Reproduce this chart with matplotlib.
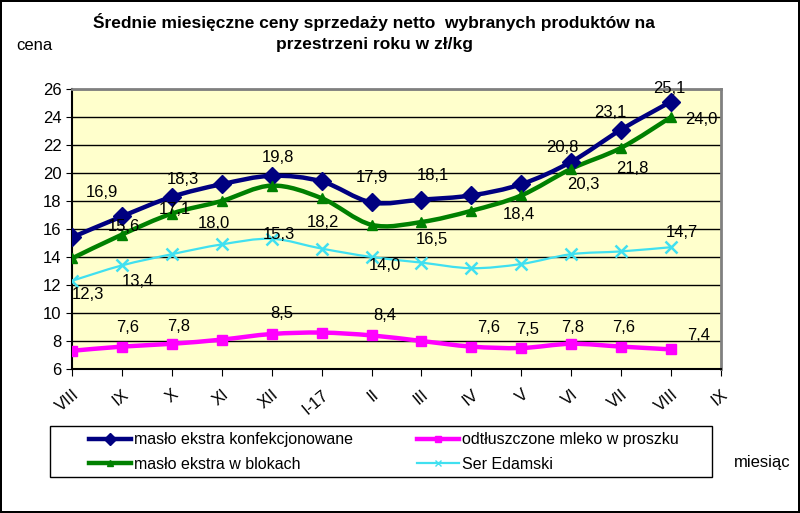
import numpy as np
import matplotlib.pyplot as plt
from matplotlib.path import Path
from matplotlib.patches import PathPatch, Rectangle
from matplotlib.lines import Line2D

plt.rcParams['font.family'] = ['Liberation Sans', 'DejaVu Sans']

months = ['VIII', 'IX', 'X', 'XI', 'XII', 'I-17', 'II', 'III', 'IV', 'V', 'VI', 'VII', 'VIII', 'IX']
maslo_konf = [15.4, 16.9, 18.3, 19.2, 19.8, 19.4, 17.9, 18.1, 18.4, 19.2, 20.8, 23.1, 25.1]
maslo_blok = [13.9, 15.6, 17.1, 18.0, 19.1, 18.2, 16.3, 16.5, 17.3, 18.4, 20.3, 21.8, 24.0]
mleko = [7.3, 7.6, 7.8, 8.1, 8.5, 8.6, 8.4, 8.0, 7.6, 7.5, 7.8, 7.6, 7.4]
ser = [12.3, 13.4, 14.2, 14.9, 15.3, 14.6, 14.0, 13.6, 13.2, 13.5, 14.2, 14.4, 14.7]

# labels shown on the chart: (index, dx px, dy px)
lab_konf = [(1, -20, 24), (2, 11, 17), (4, 6, 18), (6, 0, 25), (7, 11, 24),
            (10, -9, 14), (11, -11, 17), (12, -2, 13)]
lab_blok = [(1, 2, 8), (2, 3, 4), (3, -8, -22), (5, 1, -24), (7, 10, -17),
            (9, -2, -19), (10, 12, -16), (11, 11, -21), (12, 30, -2)]
lab_mleko = [(1, 6, 19), (2, 7, 17), (4, 10, 21), (6, 13, 20), (8, 17, 19),
             (9, 6, 18), (10, 1, 16), (11, 2, 19), (12, 28, 14)]
lab_ser = [(0, 16, -14), (1, 16, -16), (4, 7, 4), (6, 13, -8), (12, 11, 15)]

fig = plt.figure(figsize=(8, 5.13), dpi=100)
fig.patch.set_edgecolor('black')
fig.patch.set_linewidth(1.5)
ax = fig.add_axes([72 / 800, 1 - 369 / 513, 649 / 800, 280 / 513])
ax.set_facecolor('#FFFFCC')


def smooth(ax, xs, ys, color, lw):
    # Catmull-Rom -> cubic bezier, like Excel smoothed lines
    p = np.column_stack([xs, ys]).astype(float)
    n = len(p)
    verts = [p[0]]
    codes = [Path.MOVETO]
    for i in range(n - 1):
        p0 = p[i - 1] if i > 0 else p[i]
        p3 = p[i + 2] if i + 2 < n else p[i + 1]
        c1 = p[i] + (p[i + 1] - p0) / 6
        c2 = p[i + 1] - (p3 - p[i]) / 6
        verts += [c1, c2, p[i + 1]]
        codes += [Path.CURVE4] * 3
    ax.add_patch(PathPatch(Path(verts, codes), fill=False, edgecolor=color,
                           lw=lw, capstyle='round', joinstyle='round', zorder=3))


series = {
    'konf': (maslo_konf, '#000080', 3.2, 'D', 9, 'masło ekstra konfekcjonowane', lab_konf),
    'mleko': (mleko, '#FF00FF', 3.2, 's', 7, 'odtłuszczone mleko w proszku', lab_mleko),
    'blok': (maslo_blok, '#008000', 3.2, '^', 7, 'masło ekstra w blokach', lab_blok),
    'ser': (ser, '#40E0F0', 1.6, 'x', 8, 'Ser Edamski', lab_ser),
}

handles = {}
for key, (vals, col, lw, mk, ms, name, labs) in series.items():
    xs = np.arange(len(vals))
    smooth(ax, xs, vals, col, lw)
    ax.plot(xs, vals, ls='none', marker=mk, ms=ms, color=col,
            mew=1.8 if mk == 'x' else 1, zorder=4)
    handles[key] = Line2D([], [], color=col, lw=lw, marker=mk, ms=ms - 3, label=name)
    for i, dx, dy in labs:
        ax.annotate(f'{vals[i]:.1f}'.replace('.', ','), (xs[i], vals[i]),
                    xytext=(dx, dy), textcoords='offset pixels',
                    ha='center', va='center', fontsize=12, zorder=5)

ax.set_xlim(0, len(months) - 1)
ax.set_ylim(6, 26)
ax.set_yticks(np.arange(6, 27, 2))
ax.set_xticks(np.arange(len(months)))
ax.set_xticklabels(months, rotation=40, ha='right', rotation_mode='anchor', fontsize=12)
ax.tick_params(axis='y', labelsize=12, length=4, direction='out')
ax.tick_params(axis='x', length=5, direction='out', pad=8)
ax.yaxis.grid(True, color='black', lw=1)
ax.set_axisbelow(True)
for s in ['top', 'right']:
    ax.spines[s].set_color('#808080')
    ax.spines[s].set_linewidth(2)
for s in ['left', 'bottom']:
    ax.spines[s].set_color('black')
    ax.spines[s].set_linewidth(1.5)

fig.text(374 / 800, 1 - 22 / 513,
         'Średnie miesięczne ceny sprzedaży netto  wybranych produktów na',
         ha='center', va='center', fontsize=12.5, fontweight='bold')
fig.text(374 / 800, 1 - 45 / 513, 'przestrzeni roku w zł/kg',
         ha='center', va='center', fontsize=12.5, fontweight='bold')
fig.text(34 / 800, 1 - 45 / 513, 'cena', ha='center', va='center', fontsize=12)
fig.text(762 / 800, 1 - 463 / 513, 'miesiąc', ha='center', va='center', fontsize=12)

# legend frame drawn separately, entries placed inside it
fig.patches.append(Rectangle((50 / 800, 1 - 477 / 513), 662 / 800, 51 / 513,
                             transform=fig.transFigure, fill=False,
                             edgecolor='black', lw=1))
leg = fig.legend(handles=[handles['konf'], handles['blok'], handles['mleko'], handles['ser']],
                 ncol=2, loc='upper left', bbox_to_anchor=(75 / 800, 1 - 418 / 513),
                 fontsize=11.5, frameon=False, handlelength=2.6, handletextpad=0.2,
                 columnspacing=4.0, borderpad=0.4, labelspacing=0.6)

fig.savefig('out.png', dpi=100, edgecolor=fig.get_edgecolor())
